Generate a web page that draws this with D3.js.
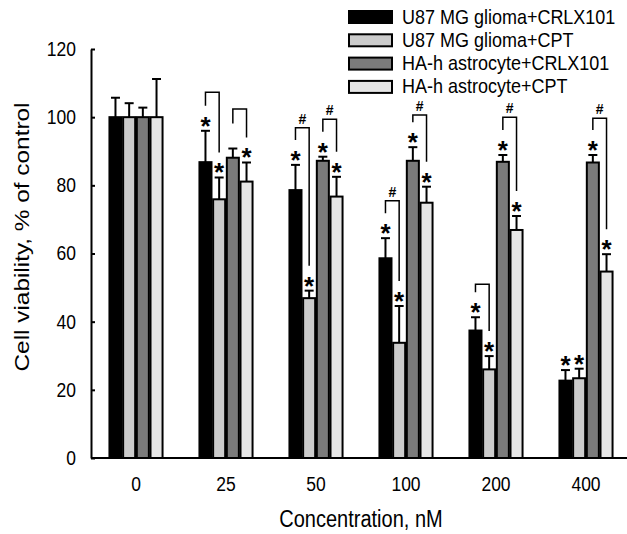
<!DOCTYPE html>
<html lang="en">
<head>
    <meta charset="UTF-8">
    <title>Cell viability</title>
    <script src="https://d3js.org/d3.v7.min.js"></script>
    <style>
        body { margin: 0; background: #fff; }
        text { font-family: "Liberation Sans", Arial, sans-serif; fill: #000; }
        .bar { stroke: #000; stroke-width: 2px; }
        .err { stroke: #000; stroke-width: 2px; fill: none; }
        .bracket { stroke: #000; stroke-width: 1.5px; fill: none; }
        .axis path, .axis line { stroke: #000; stroke-width: 2px; }
    </style>
</head>
<body>
    <div id="chart"></div>
    <script>
        // concentrations (nM)
        const categories = ["0", "25", "50", "100", "200", "400"];
        const seriesNames = [
            "U87 MG glioma+CRLX101",
            "U87 MG glioma+CPT",
            "HA-h astrocyte+CRLX101",
            "HA-h astrocyte+CPT"
        ];
        const seriesColors = ["#000000", "#cccccc", "#7b7b7b", "#e6e6e6"];

        // mean viability, % of control
        const u87Crlx = [100, 86.8, 78.6, 58.6, 37.4, 22.7];
        const u87Cpt  = [100, 75.9, 46.9, 33.8, 26.0, 23.4];
        const haCrlx  = [100, 88.1, 87.2, 87.2, 86.9, 86.7];
        const haCpt   = [100, 81.1, 76.7, 74.9, 66.9, 54.7];

        // upper error (SD)
        const u87CrlxErr = [5.7, 9.2, 7.4, 5.9, 3.9, 3.1];
        const u87CptErr  = [4.1, 6.4, 2.2, 10.8, 3.9, 2.8];
        const haCrlxErr  = [2.8, 2.7, 1.2, 4.0, 2.0, 2.2];
        const haCptErr   = [11.2, 5.6, 5.8, 4.7, 4.1, 5.1];

        // significance stars vs control
        const u87CrlxSig = [0, 1, 1, 1, 1, 1];
        const u87CptSig  = [0, 1, 1, 1, 1, 1];
        const haCrlxSig  = [0, 0, 1, 1, 1, 1];
        const haCptSig   = [0, 1, 1, 1, 1, 1];

        // brackets between CRLX101 and CPT: category, bar from, bar to, top value, '#' mark
        const bracketCats = ["25", "25", "50", "50", "100", "100", "200", "200", "400"];
        const bracketFrom = [0, 2, 0, 2, 0, 2, 0, 2, 2];
        const bracketTo   = [1, 3, 1, 3, 1, 3, 1, 3, 3];
        const bracketTop  = [107.3, 102.4, 96.9, 99.4, 75.5, 100.6, 51.0, 100.0, 99.7];
        const bracketHash = [0, 0, 1, 1, 1, 1, 0, 1, 1];

        const yTicks = [0, 20, 40, 60, 80, 100, 120];

        const means = [u87Crlx, u87Cpt, haCrlx, haCpt];
        const errs = [u87CrlxErr, u87CptErr, haCrlxErr, haCptErr];
        const sigs = [u87CrlxSig, u87CptSig, haCrlxSig, haCptSig];

        const W = 627, H = 534;
        const stretch = 1.15; // text in the figure is slightly tall

        const svg = d3.select("#chart").append("svg")
            .attr("width", W)
            .attr("height", H);

        const x = d3.scaleBand()
            .domain(categories)
            .range([91, 631])
            .paddingInner(0.41)
            .paddingOuter(0.205);

        const xs = d3.scaleBand()
            .domain(d3.range(4))
            .range([0, x.bandwidth()])
            .paddingInner(0.12);

        const y = d3.scaleLinear()
            .domain([0, 120])
            .range([458, 49]);

        const rows = [];
        categories.forEach((c, i) => {
            for (let s = 0; s < 4; s++) {
                rows.push({ cat: c, s: s, v: means[s][i], e: errs[s][i], sig: sigs[s][i] });
            }
        });
        const barX = d => x(d.cat) + xs(d.s);
        const barC = d => x(d.cat) + xs(d.s) + xs.bandwidth() / 2;

        // bars
        svg.append("g").selectAll("rect")
            .data(rows)
            .enter().append("rect")
            .attr("class", "bar")
            .attr("x", barX)
            .attr("width", xs.bandwidth())
            .attr("y", d => y(d.v))
            .attr("height", d => y(0) - y(d.v))
            .attr("fill", d => seriesColors[d.s]);

        // error bars (upper only)
        const eg = svg.append("g");
        eg.selectAll("line.stem")
            .data(rows)
            .enter().append("line")
            .attr("class", "err")
            .attr("x1", barC).attr("x2", barC)
            .attr("y1", d => y(d.v))
            .attr("y2", d => y(d.v + d.e));
        eg.selectAll("line.cap")
            .data(rows)
            .enter().append("line")
            .attr("class", "err")
            .attr("x1", d => barC(d) - 4.5).attr("x2", d => barC(d) + 4.5)
            .attr("y1", d => y(d.v + d.e))
            .attr("y2", d => y(d.v + d.e));

        // stars
        svg.append("g").selectAll("text")
            .data(rows.filter(d => d.sig))
            .enter().append("text")
            .attr("text-anchor", "middle")
            .attr("font-size", 26)
            .attr("font-weight", "bold")
            .attr("x", barC)
            .attr("y", d => y(d.v + d.e) + 4)
            .text("*");

        // brackets
        const brackets = bracketCats.map((c, i) => ({
            cat: c, a: bracketFrom[i], b: bracketTo[i], top: bracketTop[i], hash: bracketHash[i]
        }));
        const catIdx = c => categories.indexOf(c);
        const bg = svg.append("g");
        bg.selectAll("path")
            .data(brackets)
            .enter().append("path")
            .attr("class", "bracket")
            .attr("d", d => {
                const i = catIdx(d.cat);
                const xa = barC({ cat: d.cat, s: d.a });
                const xb = barC({ cat: d.cat, s: d.b });
                const ya = y(means[d.a][i] + errs[d.a][i]) - 25;
                const yb = y(means[d.b][i] + errs[d.b][i]) - 25;
                const yt = y(d.top);
                return `M${xa},${ya}V${yt}H${xb}V${yb}`;
            });
        bg.selectAll("text")
            .data(brackets.filter(d => d.hash))
            .enter().append("text")
            .attr("text-anchor", "middle")
            .attr("font-size", 14)
            .attr("font-weight", "bold")
            .attr("x", d => (barC({ cat: d.cat, s: d.a }) + barC({ cat: d.cat, s: d.b })) / 2)
            .attr("y", d => y(d.top) - 4)
            .text("#");

        // axes
        const yAxis = d3.axisLeft(y)
            .tickValues(yTicks)
            .tickSizeInner(-4)
            .tickSizeOuter(0)
            .tickPadding(15);
        const ya = svg.append("g")
            .attr("class", "axis")
            .attr("transform", "translate(91,0)")
            .call(yAxis);
        ya.selectAll("text")
            .attr("font-size", 17.5)
            .attr("transform", `scale(1,${stretch})`);

        const xAxis = d3.axisBottom(x)
            .tickSize(0)
            .tickPadding(16);
        const xa = svg.append("g")
            .attr("class", "axis")
            .attr("transform", "translate(0,458)")
            .call(xAxis);
        xa.selectAll("text")
            .attr("font-size", 17.5)
            .attr("transform", `scale(1,${stretch})`);
        xa.select(".domain").attr("d", "M91,0H631");

        // axis titles
        svg.append("text")
            .attr("text-anchor", "middle")
            .attr("font-size", 20)
            .attr("transform", `translate(361,527) scale(1,${stretch})`)
            .text("Concentration, nM");

        svg.append("text")
            .attr("text-anchor", "middle")
            .attr("font-size", 20)
            .attr("transform", `translate(29,237) rotate(-90) scale(${stretch * 1.06},1)`)
            .text("Cell viability, % of control");

        // legend
        const lg = svg.append("g").attr("transform", "translate(349,11)");
        const li = lg.selectAll("g")
            .data(seriesNames)
            .enter().append("g")
            .attr("transform", (d, i) => `translate(0,${i * 23.3})`);
        li.append("rect")
            .attr("class", "bar")
            .attr("width", 43)
            .attr("height", 12)
            .attr("fill", (d, i) => seriesColors[i]);
        li.append("text")
            .attr("font-size", 18)
            .attr("transform", `translate(53,12.5) scale(1,${stretch})`)
            .text(d => d);
    </script>
</body>
</html>
